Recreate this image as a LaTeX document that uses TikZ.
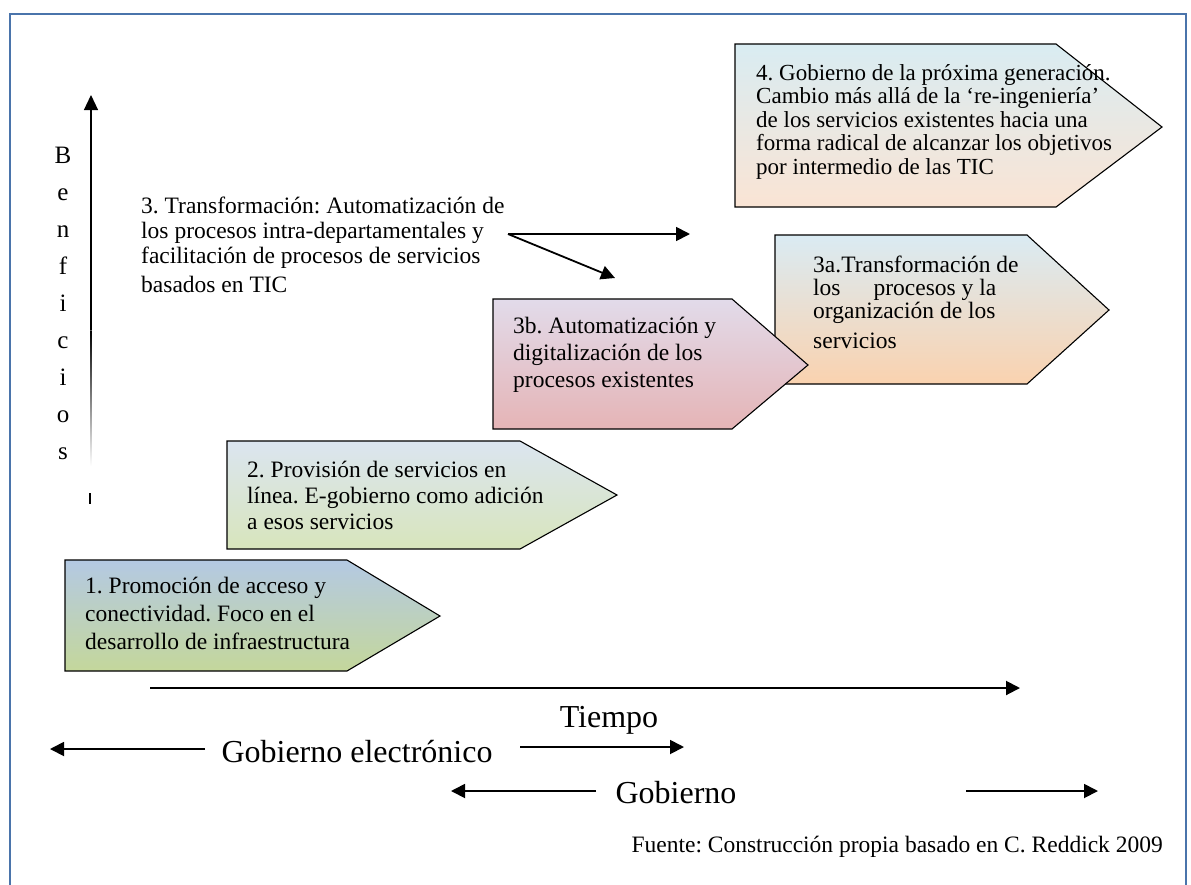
\documentclass[tikz,border=0pt]{standalone}
\usepackage{fontspec}
\setmainfont{Liberation Serif}
\usetikzlibrary{arrows.meta}
\frenchspacing
\definecolor{framec}{RGB}{74,116,171}
\definecolor{bat}{RGB}{180,201,227}
\definecolor{bab}{RGB}{196,215,155}
\definecolor{bbt}{RGB}{219,229,240}
\definecolor{bbb}{RGB}{216,229,188}
\definecolor{bct}{RGB}{226,219,234}
\definecolor{bcb}{RGB}{229,180,182}
\definecolor{bdt}{RGB}{218,235,243}
\definecolor{bdb}{RGB}{250,210,175}
\definecolor{bet}{RGB}{217,236,242}
\definecolor{beb}{RGB}{250,228,212}
\begin{document}
\begin{tikzpicture}[x=1pt,y=-1pt,
  boxtext/.style={anchor=north west, inner sep=0pt, align=left},
  chev/.style={draw=black, line width=1.1pt, line join=miter},
  arr/.style={line width=1.8pt, -{Triangle[length=14pt,width=14pt]}},
  big/.style={anchor=base, inner sep=0pt, font=\fontsize{32}{36}\selectfont},
  frame/.style={draw=framec, line width=2.6pt},
]
\useasboundingbox (0,0) rectangle (1191,884);
\fill[white] (0,0) rectangle (1191,884);
\draw[frame] (10,890) -- (10,14) -- (1186,14) -- (1186,890);

% chevrons
\shadedraw[chev, top color=bat, bottom color=bab] (65,560) -- (347,560) -- (440,616) -- (347,671) -- (65,671) -- cycle;
\shadedraw[chev, top color=bbt, bottom color=bbb] (227,441) -- (520,441) -- (617,495) -- (520,549) -- (227,549) -- cycle;
\shadedraw[chev, top color=bdt, bottom color=bdb] (775,235) -- (1027,235) -- (1109,310) -- (1027,384) -- (775,384) -- cycle;
\shadedraw[chev, top color=bct, bottom color=bcb] (493,299) -- (732,299) -- (808,365) -- (732,429) -- (493,429) -- cycle;
\shadedraw[chev, top color=bet, bottom color=beb] (735,44) -- (1056,44) -- (1162,127) -- (1056,207) -- (735,207) -- cycle;

% chevron texts
\node[boxtext, font=\fontsize{23.5}{28}\selectfont] (t1) at (85,576) {\rule{0pt}{17pt}1. Promoción de acceso y\\conectividad. Foco en el\\desarrollo de infraestructura};
\node[boxtext, font=\fontsize{23.5}{26}\selectfont] (t2) at (247,460) {\rule{0pt}{17pt}2. Provisión de servicios en\\línea. E-gobierno como adición\\a esos servicios};
\node[boxtext, font=\fontsize{23.5}{27}\selectfont] (t3b) at (513,316) {\rule{0pt}{17pt}3b. Automatización y\\digitalización de los\\procesos existentes};
\node[boxtext, font=\fontsize{23.5}{23}\selectfont] (t3a) at (813,255) {\rule{0pt}{17pt}3a.Transformación de\\los\hspace{33pt}procesos y la\\organización de los\\[7pt]servicios};
\node[boxtext, font=\fontsize{23}{23.5}\selectfont] (t4) at (756,63) {\rule{0pt}{17pt}4. Gobierno de la próxima generación.\\Cambio más allá de la ‘re-ingeniería’\\de los servicios existentes hacia una\\forma radical de alcanzar los objetivos\\por intermedio de las TIC};

% stage 3 text and arrows
\node[boxtext, font=\fontsize{23.5}{25}\selectfont] (t3) at (141,196) {\rule{0pt}{17pt}3. Transformación: Automatización de\\los procesos intra-departamentales y\\facilitación de procesos de servicios\\[4pt]basados en TIC};
\coordinate (s3) at (508,234);
\coordinate (e3a) at (690,234);
\coordinate (e3b) at (615,278);
\draw[arr] (s3) -- (e3a);
\draw[arr] (s3) -- (e3b);

% vertical axis
\node[anchor=north, inner sep=0pt, align=center, font=\fontsize{25}{37}\selectfont] (ben) at (63,146) {\rule{0pt}{17pt}B\\e\\n\\f\\i\\c\\i\\o\\s};
\coordinate (ya) at (91,330);
\coordinate (yt) at (91,95);
\draw[line width=1.2pt, -{Triangle[length=15pt,width=14pt]}] (ya) -- (yt);
\shade[top color=black, bottom color=white] (90.4,330) rectangle (91.6,466);
\coordinate (tk1) at (90,493);
\coordinate (tk2) at (90,504);
\draw[line width=1.5pt] (tk1) -- (tk2);

% time axis
\coordinate (xa) at (150,688);
\coordinate (xt) at (1020,688);
\draw[arr, line width=2pt] (xa) -- (xt);

% bottom labels
\node[big] (tiempo) at (609,727) {Tiempo};
\node[big] (ge) at (357,762) {Gobierno electrónico};
\node[big] (gob) at (676,803) {Gobierno};
\coordinate (g1s) at (205,749);
\coordinate (g1e) at (50,749);
\coordinate (g2s) at (520,747);
\coordinate (g2e) at (684,747);
\coordinate (g3s) at (596,791);
\coordinate (g3e) at (451,791);
\coordinate (g4s) at (966,791);
\coordinate (g4e) at (1098,791);
\draw[arr] (g1s) -- (g1e);
\draw[arr] (g2s) -- (g2e);
\draw[arr] (g3s) -- (g3e);
\draw[arr] (g4s) -- (g4e);

\node[anchor=base east, inner sep=0pt, font=\fontsize{23.5}{26}\selectfont] (src) at (1163,852) {Fuente: Construcción propia basado en C. Reddick 2009};
\end{tikzpicture}
\end{document}
